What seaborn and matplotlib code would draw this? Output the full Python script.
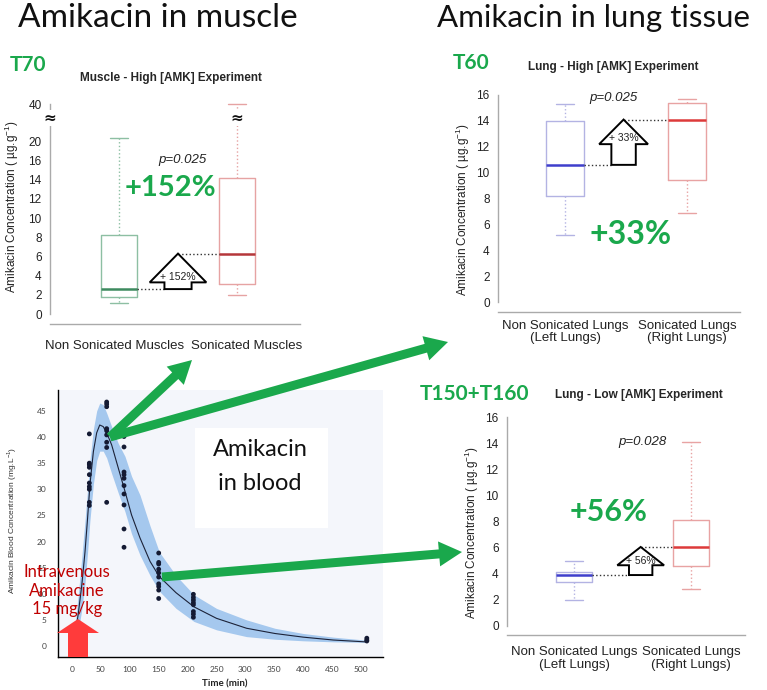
"""Amikacin distribution figure: muscle, lung and blood panels."""

import matplotlib

matplotlib.use("Agg")

import matplotlib.pyplot as plt
import matplotlib.transforms as mtransforms
import numpy as np
import pandas as pd
import seaborn as sns
from matplotlib.patches import FancyArrow, Polygon, Rectangle

W, H = 767, 690

# five-number summaries (min, q1, median, q3, max), ug/g
muscle_labels = ["Non Sonicated Muscles", "Sonicated Muscles"]
muscle_non = [1.1, 1.8, 2.6, 8.2, 21.8]
muscle_son = [2.0, 3.1, 6.3, 14.2, 40.0]
muscle_ticks = [0, 2, 4, 6, 8, 10, 12, 14, 16, 20, 40]

lung_labels = ["Non Sonicated Lungs\n(Left Lungs)", "Sonicated Lungs\n(Right Lungs)"]
lung_high_non = [5.2, 8.2, 10.6, 14.0, 15.3]
lung_high_son = [6.9, 9.4, 14.1, 15.4, 15.7]
lung_low_non = [2.0, 3.4, 3.9, 4.1, 4.95]
lung_low_son = [2.85, 4.6, 6.05, 8.15, 14.1]
lung_ticks = [0, 2, 4, 6, 8, 10, 12, 14, 16]

# blood concentrations (mg/L) observed at each sampling time (min)
blood_times = [30, 60, 90, 150, 210, 510]
blood_t30 = [40.6, 35.0, 34.7, 34.2, 32.8, 31.2, 30.5, 30.0, 27.5, 26.9]
blood_t60 = [46.7, 46.3, 45.8, 41.6, 41.2, 40.4, 39.0, 38.0, 27.5]
blood_t90 = [40.1, 38.1, 33.3, 32.8, 32.1, 30.7, 29.1, 27.0, 22.4, 18.9]
blood_t150 = [17.8, 16.0, 15.7, 14.7, 14.0, 13.2, 11.9, 11.4, 10.7, 9.1]
blood_t210 = [9.9, 9.3, 8.8, 8.3, 7.9, 6.6, 6.1, 5.5]
blood_t510 = [1.5, 1.15, 0.96]

# model fit and its prediction band
curve_time = [0, 3.5, 11, 17, 22.5, 27, 31, 37, 42.7, 48, 54, 60, 68.6, 80, 91.7,
              103, 117.6, 135, 151, 180, 211, 250, 302, 351, 400, 452, 507]
curve_conc = [0, 0.6, 6.3, 11.7, 18.0, 24.5, 30.8, 37.2, 40.8, 42.3, 42.0, 40.8, 38.5,
              34.1, 29.6, 25.1, 20.7, 16.2, 13.3, 10.2, 7.5, 5.3, 3.4, 2.4, 1.7, 1.15, 0.8]
band_low = [0, 0, 3.0, 7.0, 12.0, 18.0, 24.0, 31.0, 35.5, 37.3, 37.3, 36.0, 33.0,
            29.3, 25.7, 21.5, 17.4, 13.5, 10.5, 7.2, 4.7, 3.1, 1.8, 1.3, 1.0, 0.8, 0.7]
band_high = [0.5, 2.0, 10.0, 17.0, 24.0, 30.0, 35.5, 41.5, 45.0, 46.5, 46.2, 44.6, 42.0,
             38.8, 36.3, 32.5, 28.9, 23.0, 18.0, 13.5, 9.8, 7.2, 5.0, 3.4, 2.4, 1.7, 1.15]

GREEN = "#1aa84c"
CAL = ["Lato", "DejaVu Sans"]
ARIAL = ["Liberation Sans", "DejaVu Sans"]

sns.set_theme(style="white")
plt.rcParams["font.family"] = ARIAL
plt.rcParams["mathtext.fontset"] = "custom"
plt.rcParams["mathtext.rm"] = "Liberation Sans"

fig = plt.figure(figsize=(W / 100, H / 100), dpi=100)
fig.patch.set_facecolor("white")
PX = mtransforms.Affine2D().scale(1 / W, -1 / H).translate(0, 1) + fig.transFigure


def px_axes(left, top, right, bottom, **kw):
    return fig.add_axes([left / W, 1 - bottom / H, (right - left) / W, (bottom - top) / H], **kw)


def ftext(x, y, s, **kw):
    kw.setdefault("ha", "center")
    kw.setdefault("va", "center")
    fig.text(x, y, s, transform=PX, **kw)


def muscle_axis(v):
    """Broken muscle axis: linear to 16, squeezed 16-20, strongly squeezed above 20."""
    v = np.asarray(v, dtype=float)
    return np.where(v <= 16, v, np.where(v <= 20, 16 + (v - 16) * 0.5, 18 + (v - 20) * 0.195))


def draw_boxes(ax, labels, groups, box_colors, median_colors):
    for label, values, box_c, med_c in zip(labels, groups, box_colors, median_colors):
        sns.boxplot(
            x=[label] * len(values), y=list(values), order=labels, ax=ax,
            width=0.31, whis=(0, 100), fill=False, color=box_c, linewidth=1.0,
            showfliers=False,
            medianprops={"color": med_c, "linewidth": 1.8},
            whiskerprops={"linestyle": ":", "color": box_c},
            capprops={"color": box_c},
            boxprops={"color": box_c},
        )


def style_box_axes(ax, xlim, ylim, ticks, tick_pos, labels, label_pad):
    ax.set_xlim(*xlim)
    ax.set_ylim(*ylim)
    ax.set_yticks(tick_pos)
    ax.set_yticklabels([str(t) for t in ticks])
    ax.set_xticks([0, 1])
    ax.set_xticklabels(labels, linespacing=1.05)
    ax.set_xlabel("")
    ax.set_ylabel("")
    for side in ["top", "right"]:
        ax.spines[side].set_visible(False)
    for side in ["left", "bottom"]:
        ax.spines[side].set_color("#aaaaaa")
        ax.spines[side].set_linewidth(1.0)
    ax.spines["left"].set_bounds(tick_pos[0], tick_pos[-1])
    ax.tick_params(axis="y", length=4, color="#aaaaaa", labelsize=8.5, labelcolor="#222222", pad=2)
    ax.tick_params(axis="x", length=4, color="#aaaaaa", labelsize=9.5, labelcolor="#222222", pad=label_pad)
    ax.set_facecolor("none")


def gain_arrow(ax, x_mid, low, high, head_len, head_hw, shaft_hw, text, text_y):
    verts = [
        (x_mid - shaft_hw, low), (x_mid - shaft_hw, high - head_len),
        (x_mid - head_hw, high - head_len), (x_mid, high),
        (x_mid + head_hw, high - head_len), (x_mid + shaft_hw, high - head_len),
        (x_mid + shaft_hw, low),
    ]
    ax.add_patch(Polygon(verts, closed=True, facecolor="white", edgecolor="black", lw=1.4, zorder=5))
    ax.plot([0.155, x_mid - shaft_hw], [low, low], ls=":", color="#333333", lw=1.0, zorder=4)
    ax.plot([x_mid, 1 - 0.155], [high, high], ls=":", color="#333333", lw=1.0, zorder=4)
    ax.text(x_mid, text_y, text, ha="center", va="center", fontsize=7.5, color="#222222", zorder=6)


ylab = "Amikacin Concentration ( µg.g$^{-1}$)"

# ---- muscle --------------------------------------------------------------
ax_m = px_axes(50, 100, 300, 324)
draw_boxes(ax_m, muscle_labels, [muscle_axis(muscle_non), muscle_axis(muscle_son)],
           ["#8dbfa3", "#e6a3a3"], ["#3d8a5f", "#b5373a"])
m_pos = muscle_axis(muscle_ticks)
style_box_axes(ax_m, (-0.585, 1.534), (-1.04, 22.32), muscle_ticks, m_pos, muscle_labels, 13)
ax_m.set_xticklabels(["", ""])
ftext(115, 346, muscle_labels[0], fontsize=9.5, color="#222222")
ftext(247, 346, muscle_labels[1], fontsize=9.5, color="#222222")
m_med = muscle_axis([muscle_non[2], muscle_son[2]])
gain_arrow(ax_m, 0.5, m_med[0], m_med[1], 3.0, 0.24, 0.115, "+ 152%", m_med[0] + 1.3)
for xb in (-0.585, 1.0):
    ax_m.text(xb, 20.45, "≈", ha="center", va="center", fontsize=11, fontweight="bold",
              color="#111111", family=["DejaVu Sans"],
              bbox=dict(facecolor="white", edgecolor="none", pad=0.2), zorder=6)

# ---- lung, high dose ----------------------------------------------------
ax_h = px_axes(498, 92, 740, 312)
draw_boxes(ax_h, lung_labels, [lung_high_non, lung_high_son],
           ["#b3b3e3", "#e8a3a3"], ["#3f3fcc", "#dd3a3a"])
style_box_axes(ax_h, (-0.549, 1.434), (-0.77, 16.23), lung_ticks, lung_ticks, lung_labels, 1.5)
gain_arrow(ax_h, 0.48, lung_high_non[2], lung_high_son[2], 1.9, 0.2, 0.1, "+ 33%", 12.7)

# ---- lung, low dose -----------------------------------------------------
ax_l = px_axes(507, 414, 745, 635)
draw_boxes(ax_l, lung_labels, [lung_low_non, lung_low_son],
           ["#b3b3e3", "#e8a3a3"], ["#3f3fcc", "#dd3a3a"])
style_box_axes(ax_l, (-0.573, 1.462), (-0.69, 16.23), lung_ticks, lung_ticks, lung_labels, 4)
gain_arrow(ax_l, 0.57, lung_low_non[2], lung_low_son[2], 1.4, 0.2, 0.1, "+ 56%", 4.95)

# ---- blood --------------------------------------------------------------
blood_df = pd.DataFrame({
    "time": np.repeat(blood_times, [len(blood_t30), len(blood_t60), len(blood_t90),
                                    len(blood_t150), len(blood_t210), len(blood_t510)]),
    "conc": blood_t30 + blood_t60 + blood_t90 + blood_t150 + blood_t210 + blood_t510,
})
fit_df = pd.DataFrame({"time": curve_time, "conc": curve_conc, "low": band_low, "high": band_high})

ax_b = px_axes(58, 390, 383, 657)
ax_b.set_facecolor("#f4f6fb")
ax_b.fill_between(fit_df["time"], fit_df["low"], fit_df["high"], color="#a5c8ee", lw=0, zorder=1)
sns.lineplot(data=fit_df, x="time", y="conc", ax=ax_b, color="#1c2238", lw=0.8, sort=False, zorder=2)
sns.scatterplot(data=blood_df, x="time", y="conc", ax=ax_b, color="#141a33", s=12,
                edgecolor="none", zorder=3)
ax_b.set_xlim(-24.2, 538)
ax_b.set_ylim(-2.1, 49.0)
ax_b.set_xticks(range(0, 501, 50))
ax_b.set_yticks(range(0, 46, 5))
ax_b.set_xlabel("")
ax_b.set_ylabel("")
for side in ["top", "right"]:
    ax_b.spines[side].set_visible(False)
for side in ["left", "bottom"]:
    ax_b.spines[side].set_color("black")
    ax_b.spines[side].set_linewidth(1.0)
ax_b.tick_params(axis="both", length=3, color="black", labelsize=6, labelcolor="#444444")
ax_b.tick_params(axis="x", direction="inout", pad=5)
ax_b.tick_params(axis="y", pad=5)
for lab in ax_b.get_xticklabels() + ax_b.get_yticklabels():
    lab.set_family(CAL)

# ---- overlay for annotations -------------------------------------------
ov = fig.add_axes([0, 0, 1, 1], zorder=10)
ov.set_xlim(0, W)
ov.set_ylim(H, 0)
ov.axis("off")
ov.patch.set_alpha(0)

ov.add_patch(Rectangle((195, 428), 133, 100, facecolor="white", edgecolor="none", zorder=1))
ov.text(260, 450, "Amikacin", ha="center", va="center", fontsize=17, family=CAL, color="#111111")
ov.text(260, 483, "in blood", ha="center", va="center", fontsize=17, family=CAL, color="#111111")

arrow_kw = dict(width=9, head_width=25, head_length=23, length_includes_head=True,
                color=GREEN, lw=0, zorder=5)
ov.add_patch(FancyArrow(110, 437, 192 - 110, 360 - 437, **arrow_kw))
ov.add_patch(FancyArrow(110, 437, 448 - 110, 342 - 437, **arrow_kw))
ov.add_patch(FancyArrow(162, 577, 462 - 162, 552 - 577, **arrow_kw))

ov.add_patch(FancyArrow(78, 657, 0, -38, width=20, head_width=42, head_length=14,
                        length_includes_head=True, color="#ff3b3b", lw=0, zorder=4))
for yy, line in zip([572, 591, 609], ["Intravenous", "Amikacine", "15 mg/kg"]):
    ov.text(67, yy, line, ha="center", va="center", fontsize=12, family=CAL,
            color="#c00000", zorder=6)

# ---- free text ----------------------------------------------------------
ftext(18, 27, "Amikacin in muscle", ha="left", va="baseline", fontsize=24, family=CAL,
      color="#111111")
ftext(437, 27, "Amikacin in lung tissue", ha="left", va="baseline", fontsize=22.5, family=CAL,
      color="#111111")
ftext(10, 65, "T70", ha="left", fontsize=15, fontweight="bold", family=CAL, color=GREEN)
ftext(453, 63, "T60", ha="left", fontsize=15, fontweight="bold", family=CAL, color=GREEN)
ftext(420, 394, "T150+T160", ha="left", fontsize=15, fontweight="bold", family=CAL, color=GREEN)

ftext(171, 78, "Muscle - High [AMK] Experiment", fontsize=8.5, fontweight="bold")
ftext(613, 67, "Lung - High [AMK] Experiment", fontsize=8.5, fontweight="bold")
ftext(639, 395, "Lung - Low [AMK] Experiment", fontsize=8.5, fontweight="bold")

ftext(182, 160, "p=0.025", fontsize=9.5, style="italic", color="#222222")
ftext(613, 98, "p=0.025", fontsize=9.5, style="italic", color="#222222")
ftext(642, 442, "p=0.028", fontsize=9.5, style="italic", color="#222222")

ftext(170, 188, "+152%", fontsize=21, fontweight="bold", family=CAL, color=GREEN)
ftext(631, 235, "+33%", fontsize=23, fontweight="bold", family=CAL, color=GREEN)
ftext(609, 512, "+56%", fontsize=22, fontweight="bold", family=CAL, color=GREEN)

ftext(12, 207, ylab, rotation=90, fontsize=8.5, color="#222222")
ftext(463, 210, ylab, rotation=90, fontsize=8.5, color="#222222")
ftext(472, 533, ylab, rotation=90, fontsize=8.5, color="#222222")
ftext(12, 520, "Amikacin Blood Concentration (mg.L$^{-1}$)", rotation=90, fontsize=6,
      color="#333333")
ftext(225, 684, "Time (min)", fontsize=7, fontweight="bold", family=CAL, color="#222222")

fig.savefig("out.png", dpi=100)
